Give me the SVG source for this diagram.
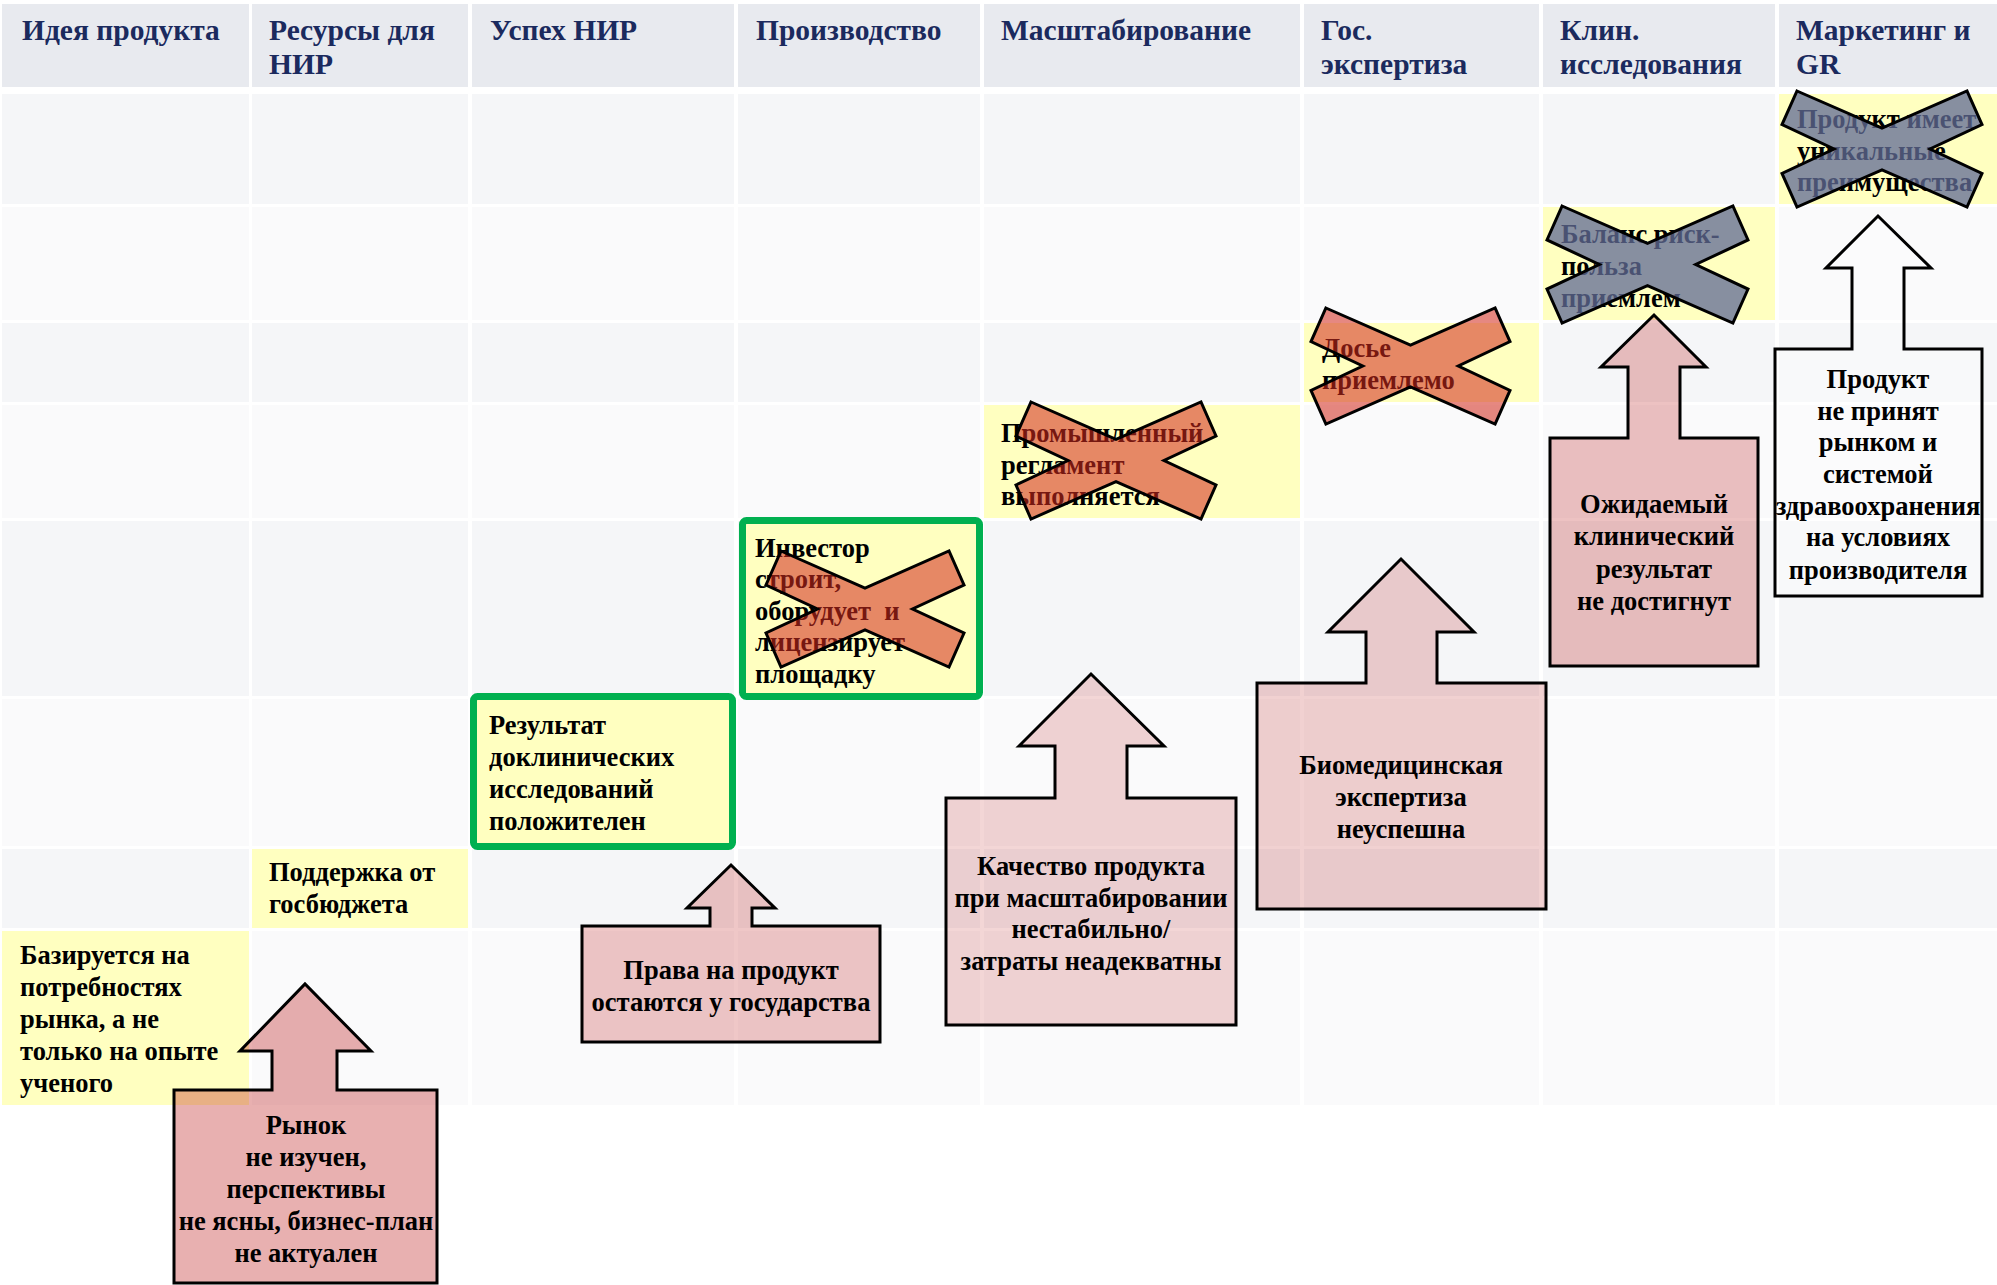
<svg xmlns="http://www.w3.org/2000/svg" width="1997" height="1285" viewBox="0 0 1997 1285">
<style>
.hdr{fill:#E8EAEF}
.ra{fill:#F5F6F8}
.rb{fill:#FAFAFB}
.yel{fill:#FFFFC0}
.grn{fill:#FFFFC0;stroke:#00B050;stroke-width:7}
.ht{font-family:"Liberation Serif",serif;font-weight:bold;font-size:29.5px;fill:#1B2A5E}
.t{font-family:"Liberation Serif",serif;font-weight:bold;font-size:26.5px;fill:#000}
.c{text-anchor:middle}
.xo{fill:#D22A1E;fill-opacity:0.56;stroke:#000;stroke-width:3;stroke-linejoin:miter}
.xg{fill:#616C96;fill-opacity:0.76;stroke:#000;stroke-width:3;stroke-linejoin:miter}
.ar{fill:#B40000;stroke:#000;stroke-width:3;stroke-linejoin:miter}
</style>
<rect width="1997" height="1285" fill="#FFFFFF"/>
<g id="grid">
<rect class="hdr" x="2" y="4" width="247" height="83"/>
<rect class="hdr" x="252" y="4" width="216" height="83"/>
<rect class="hdr" x="472" y="4" width="262" height="83"/>
<rect class="hdr" x="738" y="4" width="242" height="83"/>
<rect class="hdr" x="984" y="4" width="316" height="83"/>
<rect class="hdr" x="1304" y="4" width="235" height="83"/>
<rect class="hdr" x="1543" y="4" width="232" height="83"/>
<rect class="hdr" x="1779" y="4" width="218" height="83"/>
<g class="ra">
<rect x="2" y="94" width="247" height="110"/><rect x="252" y="94" width="216" height="110"/><rect x="472" y="94" width="262" height="110"/><rect x="738" y="94" width="242" height="110"/><rect x="984" y="94" width="316" height="110"/><rect x="1304" y="94" width="235" height="110"/><rect x="1543" y="94" width="232" height="110"/><rect x="1779" y="94" width="218" height="110"/>
<rect x="2" y="323" width="247" height="79"/><rect x="252" y="323" width="216" height="79"/><rect x="472" y="323" width="262" height="79"/><rect x="738" y="323" width="242" height="79"/><rect x="984" y="323" width="316" height="79"/><rect x="1304" y="323" width="235" height="79"/><rect x="1543" y="323" width="232" height="79"/><rect x="1779" y="323" width="218" height="79"/>
<rect x="2" y="521" width="247" height="175"/><rect x="252" y="521" width="216" height="175"/><rect x="472" y="521" width="262" height="175"/><rect x="738" y="521" width="242" height="175"/><rect x="984" y="521" width="316" height="175"/><rect x="1304" y="521" width="235" height="175"/><rect x="1543" y="521" width="232" height="175"/><rect x="1779" y="521" width="218" height="175"/>
<rect x="2" y="849" width="247" height="79"/><rect x="252" y="849" width="216" height="79"/><rect x="472" y="849" width="262" height="79"/><rect x="738" y="849" width="242" height="79"/><rect x="984" y="849" width="316" height="79"/><rect x="1304" y="849" width="235" height="79"/><rect x="1543" y="849" width="232" height="79"/><rect x="1779" y="849" width="218" height="79"/>
</g>
<g class="rb">
<rect x="2" y="207" width="247" height="113"/><rect x="252" y="207" width="216" height="113"/><rect x="472" y="207" width="262" height="113"/><rect x="738" y="207" width="242" height="113"/><rect x="984" y="207" width="316" height="113"/><rect x="1304" y="207" width="235" height="113"/><rect x="1543" y="207" width="232" height="113"/><rect x="1779" y="207" width="218" height="113"/>
<rect x="2" y="405" width="247" height="113"/><rect x="252" y="405" width="216" height="113"/><rect x="472" y="405" width="262" height="113"/><rect x="738" y="405" width="242" height="113"/><rect x="984" y="405" width="316" height="113"/><rect x="1304" y="405" width="235" height="113"/><rect x="1543" y="405" width="232" height="113"/><rect x="1779" y="405" width="218" height="113"/>
<rect x="2" y="699" width="247" height="147"/><rect x="252" y="699" width="216" height="147"/><rect x="472" y="699" width="262" height="147"/><rect x="738" y="699" width="242" height="147"/><rect x="984" y="699" width="316" height="147"/><rect x="1304" y="699" width="235" height="147"/><rect x="1543" y="699" width="232" height="147"/><rect x="1779" y="699" width="218" height="147"/>
<rect x="2" y="931" width="247" height="174"/><rect x="252" y="931" width="216" height="174"/><rect x="472" y="931" width="262" height="174"/><rect x="738" y="931" width="242" height="174"/><rect x="984" y="931" width="316" height="174"/><rect x="1304" y="931" width="235" height="174"/><rect x="1543" y="931" width="232" height="174"/><rect x="1779" y="931" width="218" height="174"/>
</g>
</g>
<g id="headers">
<text class="ht" x="22" y="40">Идея продукта</text>
<text class="ht" x="269" y="40">Ресурсы для</text><text class="ht" x="269" y="74">НИР</text>
<text class="ht" x="490" y="40">Успех НИР</text>
<text class="ht" x="756" y="40">Производство</text>
<text class="ht" x="1001" y="40">Масштабирование</text>
<text class="ht" x="1321" y="40">Гос.</text><text class="ht" x="1321" y="74">экспертиза</text>
<text class="ht" x="1560" y="40">Клин.</text><text class="ht" x="1560" y="74">исследования</text>
<text class="ht" x="1796" y="40">Маркетинг и</text><text class="ht" x="1796" y="74">GR</text>
</g>
<g id="idea">
<rect class="yel" x="2" y="931" width="247" height="174"/>
<text class="t" x="20" y="964">Базируется на</text>
<text class="t" x="20" y="996">потребностях</text>
<text class="t" x="20" y="1028">рынка, а не</text>
<text class="t" x="20" y="1060">только на опыте</text>
<text class="t" x="20" y="1092">ученого</text>
</g>
<g id="resources">
<rect class="yel" x="252" y="849" width="216" height="79"/>
<text class="t" x="269" y="881">Поддержка от</text>
<text class="t" x="269" y="913">госбюджета</text>
</g>
<g id="nir">
<rect class="grn" x="473.5" y="696.5" width="259" height="150" rx="4"/>
<text class="t" x="489" y="734">Результат</text>
<text class="t" x="489" y="766">доклинических</text>
<text class="t" x="489" y="798">исследований</text>
<text class="t" x="489" y="830">положителен</text>
</g>
<g id="production">
<rect class="grn" x="742.5" y="520.5" width="237" height="176" rx="4"/>
<text class="t" x="755" y="557">Инвестор</text>
<text class="t" x="755" y="588">строит,</text>
<text class="t" x="755" y="620" xml:space="preserve">оборудует  и</text>
<text class="t" x="755" y="651">лицензирует</text>
<text class="t" x="755" y="683">площадку</text>
<polygon class="xo" points="781,551 865,588 949,551 964,585 912.5,609 964,633 949,667 865,630 781,667 766,633 817.5,609 766,585"/>
</g>
<g id="scaling">
<rect class="yel" x="984" y="405" width="316" height="113"/>
<text class="t" x="1001" y="442">Промышленный</text>
<text class="t" x="1001" y="474">регламент</text>
<text class="t" x="1001" y="505">выполняется</text>
<polygon class="xo" points="1031,402 1116,439.4 1201,402 1216,436 1164,460.5 1216,485 1201,519 1116,481.6 1031,519 1016,485 1068,460.5 1016,436"/>
</g>
<g id="expertise">
<rect class="yel" x="1304" y="323" width="235" height="79"/>
<text class="t" x="1322" y="357">Досье</text>
<text class="t" x="1322" y="389">приемлемо</text>
<polygon class="xo" points="1325.9,308 1410.5,345.1 1495.1,308 1510,341.6 1458.3,366 1510,390.4 1495.1,424 1410.5,386.9 1325.9,424 1311,390.4 1362.7,366 1311,341.6"/>
</g>
<g id="clinical">
<rect class="yel" x="1543" y="207" width="232" height="113"/>
<text class="t" x="1561" y="243">Баланс риск-</text>
<text class="t" x="1561" y="275">польза</text>
<text class="t" x="1561" y="307">приемлем</text>
<polygon class="xg" points="1562.1,206 1647.5,243.4 1732.9,206 1748,239.9 1695.7,264.5 1748,289.1 1732.9,323 1647.5,285.6 1562.1,323 1547,289.1 1599.3,264.5 1547,239.9"/>
</g>
<g id="marketing">
<rect class="yel" x="1779" y="94" width="218" height="110"/>
<text class="t" x="1797" y="128">Продукт имеет</text>
<text class="t" x="1797" y="160">уникальные</text>
<text class="t" x="1797" y="191">преимущества</text>
<polygon class="xg" points="1797,91 1882,128.1 1967,91 1982,124.6 1930,149 1982,173.4 1967,207 1882,169.9 1797,207 1782,173.4 1834,149 1782,124.6"/>
</g>
<g id="connectors">
<g id="risk-market">
<path class="ar" fill-opacity="0.31" d="M174,1090 H272 V1051 H240 L305,984 L371,1051 H337 V1090 H437 V1283 H174 Z"/>
<text class="t c" x="306" y="1134">Рынок</text>
<text class="t c" x="306" y="1166">не изучен,</text>
<text class="t c" x="306" y="1198">перспективы</text>
<text class="t c" x="306" y="1230">не ясны, бизнес-план</text>
<text class="t c" x="306" y="1262">не актуален</text>
</g>
<g id="risk-rights">
<path class="ar" fill-opacity="0.22" d="M582,926 H710 V908 H687 L731,865 L775,908 H752 V926 H880 V1042 H582 Z"/>
<text class="t c" x="731" y="979">Права на продукт</text>
<text class="t c" x="731" y="1011">остаются у государства</text>
</g>
<g id="risk-quality">
<path class="ar" fill-opacity="0.16" d="M946,798 H1055 V746 H1019 L1091,674 L1164,746 H1127 V798 H1236 V1025 H946 Z"/>
<text class="t c" x="1091" y="875">Качество продукта</text>
<text class="t c" x="1091" y="907">при масштабировании</text>
<text class="t c" x="1091" y="938">нестабильно/</text>
<text class="t c" x="1091" y="970">затраты неадекватны</text>
</g>
<g id="risk-biomed">
<path class="ar" fill-opacity="0.18" d="M1257,683 H1366 V632 H1328 L1401,559 L1474,632 H1437 V683 H1546 V909 H1257 Z"/>
<text class="t c" x="1401" y="774">Биомедицинская</text>
<text class="t c" x="1401" y="806">экспертиза</text>
<text class="t c" x="1401" y="838">неуспешна</text>
</g>
<g id="risk-clinical">
<path class="ar" fill-opacity="0.24" d="M1550,438 H1628 V367 H1601 L1654,315 L1706,367 H1680 V438 H1758 V666 H1550 Z"/>
<text class="t c" x="1654" y="513">Ожидаемый</text>
<text class="t c" x="1654" y="545">клинический</text>
<text class="t c" x="1654" y="578">результат</text>
<text class="t c" x="1654" y="610">не достигнут</text>
</g>
<g id="risk-acceptance">
<path d="M1775,349 H1852 V268 H1826 L1878,216 L1931,268 H1904 V349 H1982 V596 H1775 Z" fill="#FFFFFF" fill-opacity="0.3" stroke="#000" stroke-width="3"/>
<text class="t c" x="1878" y="388">Продукт</text>
<text class="t c" x="1878" y="420">не принят</text>
<text class="t c" x="1878" y="451">рынком и</text>
<text class="t c" x="1878" y="483">системой</text>
<text class="t c" x="1878" y="515">здравоохранения</text>
<text class="t c" x="1878" y="546">на условиях</text>
<text class="t c" x="1878" y="579">производителя</text>
</g>
</g>
</svg>
